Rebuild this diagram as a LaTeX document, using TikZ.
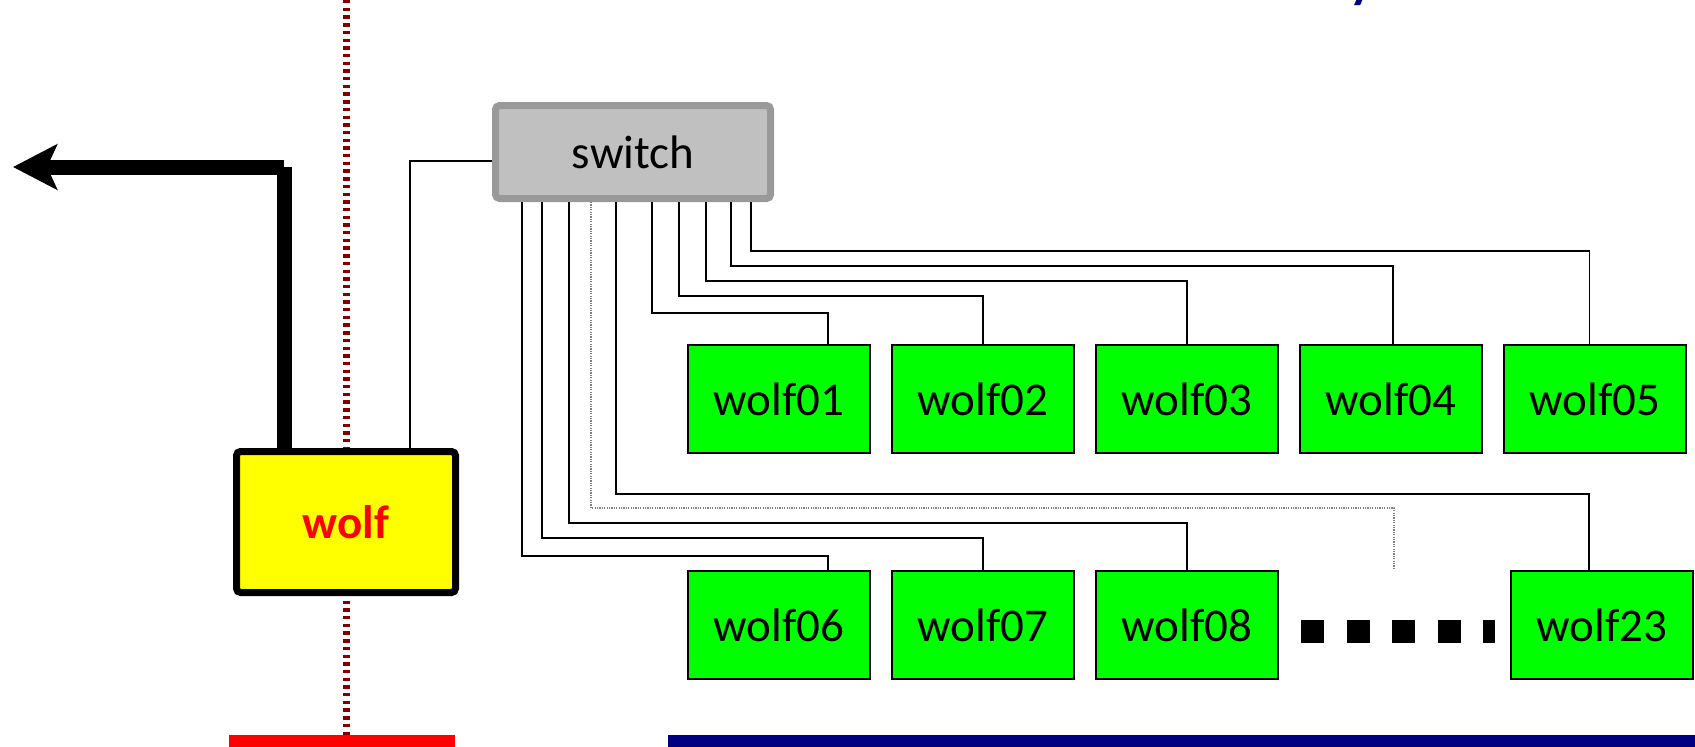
\documentclass[tikz,border=0pt]{standalone}
\usepackage{fontspec}
\setmainfont{Carlito}
\usepackage{xcolor}
\usetikzlibrary{positioning,arrows.meta}
\definecolor{navyblue}{HTML}{000080}
\definecolor{darkred}{HTML}{800000}
\definecolor{hostgreen}{HTML}{00FF00}
\definecolor{headyellow}{HTML}{FFFF00}
\definecolor{headred}{HTML}{FF0000}
\definecolor{switchgray}{HTML}{C0C0C0}
\definecolor{switchedge}{HTML}{999999}

\begin{document}
\begin{tikzpicture}[
    x=0.5pt, y=-0.5pt,
    node distance=10pt,
    font=\fontsize{23.5}{27}\selectfont,
    worker/.style={rectangle, draw, line width=1pt, fill=hostgreen, minimum width=91pt, minimum height=54pt, inner sep=0pt},
    head/.style={rectangle, draw, line width=3.5pt, rounded corners=2pt, fill=headyellow, minimum width=109.5pt, minimum height=70.5pt, text=headred, font=\bfseries\fontsize{23.5}{27}\selectfont},
    switchbox/.style={rectangle, draw=switchedge, line width=3.5pt, rounded corners=2pt, fill=switchgray, minimum width=137.5pt, minimum height=46.5pt},
    link/.style={line width=0.8pt},
    spare/.style={line width=0.8pt, gray, dash pattern=on 0.6pt off 0.6pt},
    uplink/.style={line width=7.5pt},
    divider/.style={darkred, line width=3.5pt, dash pattern=on 1.7pt off 2.15pt},
    gapdots/.style={line width=11.5pt, dash pattern=on 11.5pt off 11.25pt}
]
\useasboundingbox (0,0) rectangle (1695,746);

% dividing line and floor bars
\coordinate (divtop) at (346,0);
\coordinate (divbot) at (346,735);
\draw[divider] (divtop) -- (divbot);
\fill[headred] (229,735) rectangle (455,760);
\fill[navyblue] (668,735) rectangle (1700,760);

\node[anchor=base, text=navyblue, font=\bfseries\fontsize{26}{30}\selectfont, inner sep=0pt] (title) at (1362,-3) {y};

\node[head] (wolf) at (346,522) {wolf};
\node[switchbox] (switch) at (633,152) {switch};

\node[worker] (wolf01) at (779,399) {wolf01};
\node[worker, right=of wolf01] (wolf02) {wolf02};
\node[worker, right=of wolf02] (wolf03) {wolf03};
\node[worker, right=of wolf03] (wolf04) {wolf04};
\node[worker, right=of wolf04] (wolf05) {wolf05};
\node[worker, below=58pt of wolf01] (wolf06) {wolf06};
\node[worker, right=of wolf06] (wolf07) {wolf07};
\node[worker, right=of wolf07] (wolf08) {wolf08};
\node[worker, right=115.5pt of wolf08] (wolf23) {wolf23};

% cables from the switch
\foreach \port/\lvl/\dst/\off in {80/313/wolf01/24.5, 93.5/296/wolf02/0, 107/281/wolf03/0, 119.5/266/wolf04/1, 129.5/251/wolf05/-2.75,
                                  15/556/wolf06/24.5, 25/538/wolf07/0, 38.5/523/wolf08/0, 62/494/wolf23/-6.5}{
    \coordinate (p) at ([xshift=\port pt]switch.south west);
    \coordinate (q) at ([xshift=\off pt]\dst.north);
    \coordinate (lv) at (0,\lvl);
    \draw[link] (p) |- (q |- lv) -- (q);
}
\coordinate (sparep) at ([xshift=49.5pt]switch.south west);
\coordinate (sparebend) at (1394,508);
\coordinate (spareend) at (1394,568);
\draw[spare] (sparep) |- (sparebend) -- (spareend);

\draw[link] ([yshift=-4.5pt]switch.west) -| ([xshift=32pt]wolf.north);

% outside connection
\coordinate (bend) at (284,167);
\coordinate (exit) at (13,167);
\draw[uplink] (bend |- wolf.north) -- (bend);
\draw[uplink, -{Stealth[length=22pt, width=22.5pt, inset=5pt]}] (bend) -- (exit);

\draw[gapdots] ([shift={(11pt,-3pt)}]wolf08.east) -- ([shift={(-7.5pt,-3pt)}]wolf23.west);

\end{tikzpicture}
\end{document}
